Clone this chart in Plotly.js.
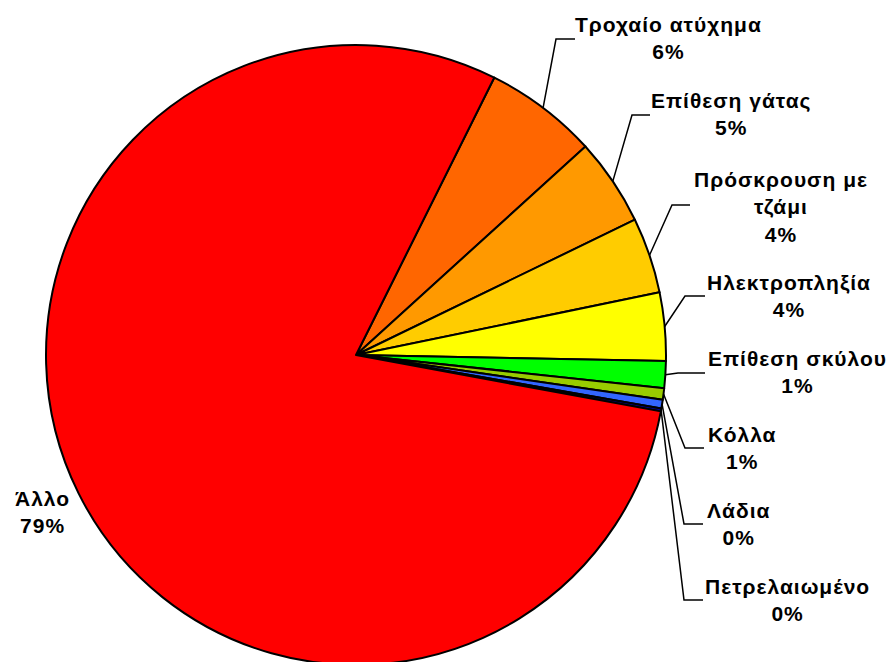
<!DOCTYPE html>
<html>
<head>
<meta charset="utf-8">
<script src="https://cdn.plot.ly/plotly-3.0.1.min.js"></script>
<style>
html, body { margin:0; padding:0; overflow:hidden; background:#fff; }
#chart { width:886px; height:670px; }
</style>
</head>
<body>
<div id="chart"></div>
<script>
// ---- data ----
const categories = ["Τροχαίο ατύχημα", "Επίθεση γάτας", "Πρόσκρουση με<br>τζάμι", "Ηλεκτροπληξία",
                    "Επίθεση σκύλου", "Κόλλα", "Λάδια", "Πετρελαιωμένο", "Άλλο"];
const values = [5.9, 4.55, 3.95, 3.55, 1.4, 0.6, 0.45, 0.15, 79.45];

// ---- styles / layout ----
const colors = ["#FF6600", "#FF9900", "#FFCC00", "#FFFF00", "#00FF00", "#99CC00", "#3366FF", "#000099", "#FF0000"];
const W = 886, H = 670;
const CX = 356, CY = 355, R = 310;
const ROT = 26.5;
// label block centres (px) and leader knee/end (px); null = no leader
const labelPos = [[668, 37.5], [731, 114], [781, 206.5], [789, 295.5], [797, 371.5], [742, 448], [738, 524], [787, 600], [42, 512]];
const leader = [[[556, 39], [575, 39]], [[632, 115], [650, 115]], [[672, 205], [690, 205]], [[685, 296], [705, 296]],
                [[678, 373], [705, 373]], [[685, 448], [704, 448]], [[684, 524], [703, 524]], [[684, 600], [703, 600]], null];

const px = x => x / W;
const py = y => 1 - y / H;

const total = values.reduce((a, b) => a + b, 0);
const annotations = [];
const shapes = [];
let cum = 0;
const sp = s => '<span style="letter-spacing:1px"><b>' + s + '</b></span>';
values.forEach((v, i) => {
  const mid = (ROT + (cum + v / 2) / total * 360) * Math.PI / 180;
  cum += v;
  const pct = Math.round(v / total * 100) + '%';
  annotations.push({
    xref: 'paper', yref: 'paper', x: px(labelPos[i][0]), y: py(labelPos[i][1]),
    xanchor: 'center', yanchor: 'middle', showarrow: false, align: 'center',
    text: categories[i].split('<br>').map(sp).join('<br>') + '<br>' + sp(pct),
    font: { family: 'Arial, "Liberation Sans", sans-serif', size: 21, color: '#000' }
  });
  if (leader[i]) {
    const ex = CX + R * Math.sin(mid), ey = CY - R * Math.cos(mid);
    const k = leader[i][0], e = leader[i][1];
    shapes.push({
      type: 'path', xref: 'paper', yref: 'paper',
      path: `M ${px(ex)} ${py(ey)} L ${px(k[0])} ${py(k[1])} L ${px(e[0])} ${py(e[1])}`,
      line: { color: '#000', width: 1.5 }
    });
  }
});

const trace = {
  type: 'pie',
  labels: categories,
  values: values,
  sort: false,
  direction: 'clockwise',
  rotation: ROT,
  textinfo: 'none',
  hoverinfo: 'label+percent',
  marker: { colors: colors, line: { color: '#000', width: 2 } },
  domain: { x: [(CX - R) / W, (CX + R) / W], y: [1 - (CY + R) / H, 1 - (CY - R) / H] }
};

Plotly.newPlot('chart', [trace], {
  width: W, height: H,
  margin: { l: 0, r: 0, t: 0, b: 0 },
  showlegend: false,
  paper_bgcolor: '#fff',
  annotations: annotations,
  shapes: shapes
}, { displayModeBar: false, staticPlot: true });
</script>
</body>
</html>
